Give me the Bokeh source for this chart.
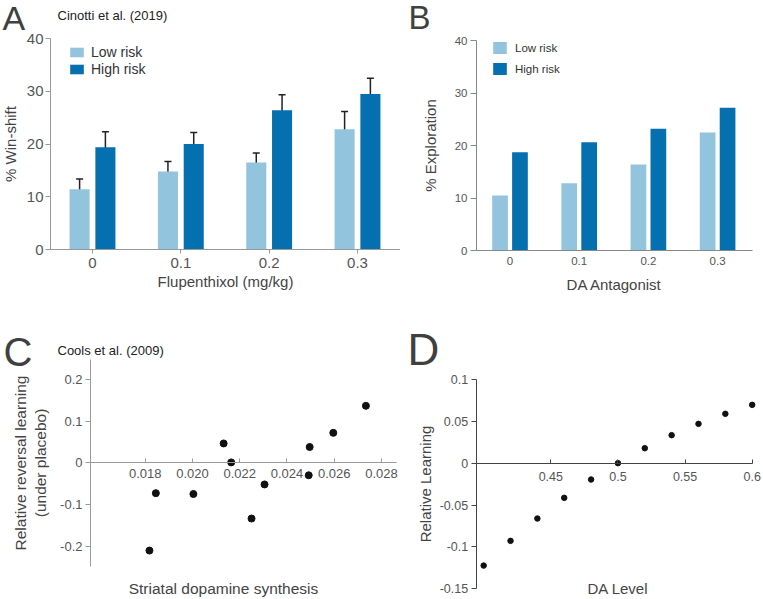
from bokeh.plotting import figure
from bokeh.models import (ColumnDataSource, FixedTicker, Whisker, TeeHead, Legend,
                          LegendItem, Label, Range1d)
from bokeh.transform import dodge
from bokeh.layouts import column, row
from bokeh.embed import file_html
from bokeh.resources import INLINE

FONT = "Liberation Sans"
LIGHT = "#93C4DE"
DARK = "#0570B0"

# ---------------- data ----------------
doses = ["0", "0.1", "0.2", "0.3"]
a_low = [11.4, 14.8, 16.5, 22.8]
a_low_err = [1.95, 1.9, 1.8, 3.35]
a_high = [19.4, 20.0, 26.4, 29.5]
a_high_err = [2.9, 2.2, 2.95, 2.95]

b_low = [10.5, 12.8, 16.4, 22.5]
b_high = [18.7, 20.6, 23.2, 27.2]

c_x = [0.01818, 0.01845, 0.02004, 0.02132, 0.02164, 0.02250, 0.02305,
       0.02492, 0.02496, 0.02596, 0.02734]
c_y = [-0.211, -0.073, -0.075, 0.0465, 0.001, -0.134, -0.052,
       -0.030, 0.038, 0.072, 0.137]
c_xticks = [0.018, 0.020, 0.022, 0.024, 0.026, 0.028]
c_xlabels = ["0.018", "0.020", "0.022", "0.024", "0.026", "0.028"]
c_yticks = [-0.2, -0.1, 0.0, 0.1, 0.2]
c_ylabels = ["-0.2", "-0.1", "0", "0.1", "0.2"]

d_x = [0.40, 0.42, 0.44, 0.46, 0.48, 0.50, 0.52, 0.54, 0.56, 0.58, 0.60]
d_y = [-0.1223, -0.0928, -0.0661, -0.0414, -0.0195, 0.0, 0.0179, 0.0335,
       0.047, 0.059, 0.0697]
d_xticks = [0.45, 0.5, 0.55, 0.6]
d_xlabels = ["0.45", "0.5", "0.55", "0.6"]
d_yticks = [-0.15, -0.1, -0.05, 0.0, 0.05, 0.1]
d_ylabels = ["-0.15", "-0.1", "-0.05", "0", "0.05", "0.1"]

bar_ticks = [0, 1, 2, 3]
bar_yticks = [0, 10, 20, 30, 40]


# ---------------- layout helpers (page pixel geometry) ----------------
def at(p1, v1, p2, v2, px):
    """data value found at page pixel px, for an axis where p1->v1, p2->v2"""
    return v1 + (px - p1) * (v2 - v1) / (p2 - p1)


def style_axis(ax, label_size, tick_size, line_color):
    ax.axis_line_color = line_color
    ax.major_tick_line_color = line_color
    ax.minor_tick_line_color = None
    ax.major_label_text_font = FONT
    ax.major_label_text_font_size = tick_size
    ax.major_label_text_color = "#555555"
    ax.axis_label_text_font = FONT
    ax.axis_label_text_font_size = label_size
    ax.axis_label_text_font_style = "normal"
    ax.axis_label_text_color = "#444444"


def base_fig(w, h, xr, yr):
    p = figure(width=w, height=h, x_range=Range1d(*xr), y_range=Range1d(*yr),
               output_backend="svg", toolbar_location=None, tools="",
               min_border=0)
    p.outline_line_color = None
    p.grid.visible = False
    p.background_fill_color = "white"
    p.border_fill_color = "white"
    return p


def add_label(p, x, y, text, size, color="#222222", align="left",
              baseline="middle", xu="screen", yu="screen"):
    p.add_layout(Label(x=x, y=y, x_units=xu, y_units=yu, text=text,
                       text_font=FONT, text_font_size=size, text_color=color,
                       text_align=align, text_baseline=baseline))


# canvases on the page: row 1 y 0..300, row 2 y 300..598; col 1 x 0..400, col 2 x 400..762
W1, W2, H1, H2 = 400, 362, 300, 298
R2 = H1 + H2  # bottom of row 2

# ---------------- Panel A ----------------
ax_ = lambda px: at(92, 0, 357, 3, px)
ay_ = lambda py: at(249, 0, 38, 40, py)
srcA = ColumnDataSource(dict(
    x=bar_ticks, low=a_low, high=a_high,
    low_up=[v + e for v, e in zip(a_low, a_low_err)],
    low_dn=[v - e for v, e in zip(a_low, a_low_err)],
    high_up=[v + e for v, e in zip(a_high, a_high_err)],
    high_dn=[v - e for v, e in zip(a_high, a_high_err)],
))
pA = base_fig(W1, H1, (ax_(0), ax_(W1)), (ay_(H1), ay_(0)))
rAl = pA.vbar(x=dodge("x", -0.146, range=pA.x_range), top="low", width=0.227,
              source=srcA, fill_color=LIGHT, line_color=None)
rAh = pA.vbar(x=dodge("x", 0.146, range=pA.x_range), top="high", width=0.227,
              source=srcA, fill_color=DARK, line_color=None)
for off, up, dn in [(-0.146, "low_up", "low_dn"), (0.146, "high_up", "high_dn")]:
    pA.add_layout(Whisker(
        source=srcA, base=dodge("x", off, range=pA.x_range), upper=up, lower=dn,
        line_color="#222222", line_width=1.5,
        upper_head=TeeHead(size=7, line_color="#222222", line_width=1.5),
        lower_head=TeeHead(size=7, line_color="#222222", line_width=1.5)))
for a in pA.axis:
    style_axis(a, "15px", "15px", "#999999")
pA.xaxis.fixed_location = 0
pA.xaxis.bounds = (ax_(50), ax_(400))
pA.xaxis.ticker = FixedTicker(ticks=bar_ticks)
pA.xaxis.major_label_overrides = {t: l for t, l in zip(bar_ticks, doses)}
pA.xaxis.major_tick_in = 0
pA.xaxis.major_tick_out = 4
pA.xaxis.major_label_standoff = 4
pA.xaxis.axis_label_standoff = 2
pA.xaxis.axis_label = "Flupenthixol (mg/kg)"
pA.yaxis.fixed_location = ax_(50)
pA.yaxis.bounds = (0, 40)
pA.yaxis.ticker = FixedTicker(ticks=bar_yticks)
pA.yaxis.major_tick_in = 0
pA.yaxis.major_tick_out = 5
pA.yaxis.major_label_standoff = 2
pA.yaxis.axis_label_standoff = 5
pA.yaxis.axis_label = "% Win-shift"
legA = Legend(items=[LegendItem(label="Low risk", renderers=[rAl]),
                     LegendItem(label="High risk", renderers=[rAh])],
              location=(68, H1 - 77), glyph_width=17, glyph_height=12,
              label_height=12, label_standoff=6, spacing=1, padding=0,
              margin=0, border_line_color=None, background_fill_alpha=0,
              label_text_font=FONT, label_text_font_size="14px",
              label_text_color="#333333")
pA.add_layout(legA)
add_label(pA, 2, H1 - 17.5, "A", "34px", color="#404040")
add_label(pA, 57, H1 - 15, "Cinotti et al. (2019)", "13px")

# ---------------- Panel B ----------------
bx_ = lambda px: at(509.5, 0, 717.1, 3, px)
by_ = lambda py: at(250, 0, 40, 40, py)
srcB = ColumnDataSource(dict(x=bar_ticks, low=b_low, high=b_high))
pB = base_fig(W2, H1, (bx_(W1), bx_(W1 + W2)), (by_(H1), by_(0)))
rBl = pB.vbar(x=dodge("x", -0.144, range=pB.x_range), top="low", width=0.227,
              source=srcB, fill_color=LIGHT, line_color=None)
rBh = pB.vbar(x=dodge("x", 0.144, range=pB.x_range), top="high", width=0.227,
              source=srcB, fill_color=DARK, line_color=None)
for a in pB.axis:
    style_axis(a, "15px", "11.5px", "#888888")
pB.xaxis.fixed_location = 0
pB.xaxis.bounds = (bx_(476), bx_(751.7))
pB.xaxis.ticker = FixedTicker(ticks=bar_ticks)
pB.xaxis.major_label_overrides = {t: l for t, l in zip(bar_ticks, doses)}
pB.xaxis.major_tick_line_color = None
pB.xaxis.major_tick_in = 0
pB.xaxis.major_tick_out = 0
pB.xaxis.major_label_standoff = 6
pB.xaxis.axis_label_standoff = 8
pB.xaxis.axis_label = "DA Antagonist"
pB.yaxis.fixed_location = bx_(476)
pB.yaxis.bounds = (0, 40)
pB.yaxis.ticker = FixedTicker(ticks=bar_yticks)
pB.yaxis.major_tick_in = 0
pB.yaxis.major_tick_out = 6
pB.yaxis.major_label_standoff = 3
pB.yaxis.axis_label_standoff = 13
pB.yaxis.axis_label = "% Exploration"
legB = Legend(items=[LegendItem(label="Low risk", renderers=[rBl]),
                     LegendItem(label="High risk", renderers=[rBh])],
              location=(491 - W1, H1 - 76), glyph_width=17, glyph_height=15,
              label_height=15, label_standoff=7, spacing=6, padding=0,
              margin=0, border_line_color=None, background_fill_alpha=0,
              label_text_font=FONT, label_text_font_size="11.5px",
              label_text_color="#333333")
pB.add_layout(legB)
add_label(pB, 408 - W1, H1 - 17, "B", "33px", color="#404040")

# ---------------- Panel C ----------------
cx_ = lambda px: at(144.7, 0.018, 381.0, 0.028, px)
cy_ = lambda py: at(462.3, 0.0, 379.1, 0.2, py)
srcC = ColumnDataSource(dict(x=c_x, y=c_y))
pC = base_fig(W1, H2, (cx_(0), cx_(W1)), (cy_(R2), cy_(H1)))
pC.scatter("x", "y", source=srcC, size=7, fill_color="#111111", line_color="#111111")
for a in pC.axis:
    style_axis(a, "15.5px", "13px", "#9a9a9a")
pC.xaxis.fixed_location = 0
pC.xaxis.bounds = (cx_(90), cx_(396))
pC.xaxis.ticker = FixedTicker(ticks=c_xticks)
pC.xaxis.major_label_overrides = {t: l for t, l in zip(c_xticks, c_xlabels)}
pC.xaxis.major_tick_in = 4
pC.xaxis.major_tick_out = 0
pC.xaxis.major_label_standoff = 6
pC.yaxis.fixed_location = cx_(90)
pC.yaxis.bounds = (-0.25, 0.2475)
pC.yaxis.ticker = FixedTicker(ticks=c_yticks)
pC.yaxis.major_label_overrides = {t: l for t, l in zip(c_yticks, c_ylabels)}
pC.yaxis.major_tick_in = 0
pC.yaxis.major_tick_out = 5
pC.yaxis.major_label_standoff = 3
pC.yaxis.axis_label_standoff = 8
pC.yaxis.axis_label = "Relative reversal learning\n(under placebo)"
add_label(pC, 223, R2 - 588, "Striatal dopamine synthesis", "15.5px",
          color="#444444", align="center")
add_label(pC, 3, R2 - 351, "C", "40px", color="#404040")
add_label(pC, 57, R2 - 350, "Cools et al. (2009)", "13px")

# ---------------- Panel D ----------------
dx_ = lambda px: at(550.3, 0.45, 751.7, 0.6, px)
dy_ = lambda py: at(462.7, 0.0, 379.0, 0.1, py)
srcD = ColumnDataSource(dict(x=d_x, y=d_y))
pD = base_fig(W2, H2, (dx_(W1), dx_(W1 + W2)), (dy_(R2), dy_(H1)))
pD.scatter("x", "y", source=srcD, size=5.5, fill_color="#111111", line_color="#111111")
for a in pD.axis:
    style_axis(a, "15px", "12.5px", "#444444")
pD.xaxis.fixed_location = 0
pD.xaxis.bounds = (dx_(475.7), 0.6)
pD.xaxis.ticker = FixedTicker(ticks=d_xticks)
pD.xaxis.major_label_overrides = {t: l for t, l in zip(d_xticks, d_xlabels)}
pD.xaxis.major_tick_in = 4
pD.xaxis.major_tick_out = 0
pD.xaxis.major_label_standoff = 9
pD.yaxis.fixed_location = dx_(475.7)
pD.yaxis.bounds = (-0.15, 0.1)
pD.yaxis.ticker = FixedTicker(ticks=d_yticks)
pD.yaxis.major_label_overrides = {t: l for t, l in zip(d_yticks, d_ylabels)}
pD.yaxis.major_tick_in = 0
pD.yaxis.major_tick_out = 5
pD.yaxis.major_label_standoff = 3
pD.yaxis.axis_label_standoff = 3
pD.yaxis.axis_label = "Relative Learning"
add_label(pD, 0.5, R2 - 588, "DA Level", "15px", color="#444444", align="center",
          xu="data")
add_label(pD, 407 - W1, R2 - 349, "D", "44px", color="#404040")

layout = column(row(pA, pB), row(pC, pD))

open("out.html", "w").write(file_html(layout, INLINE))
